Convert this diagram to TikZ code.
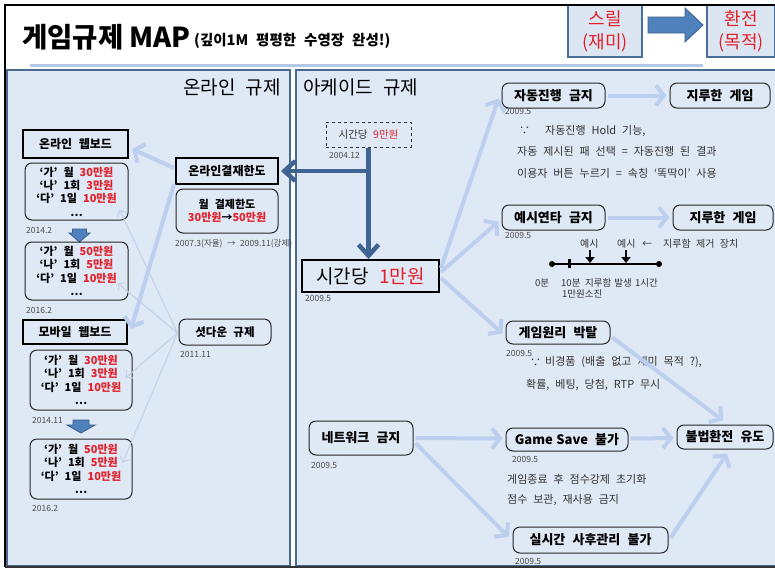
\documentclass[tikz,border=0pt]{standalone}
\usepackage{fontspec}
\setmainfont{Noto Sans CJK KR}[WordSpace=2.4]
\usetikzlibrary{arrows.meta,calc}
\definecolor{panel}{HTML}{DFE8F5}
\definecolor{pborder}{HTML}{4A6890}
\definecolor{lightarr}{HTML}{BCCFEE}
\definecolor{thinarr}{HTML}{C3D2EA}
\definecolor{darkarr}{HTML}{3F6494}
\definecolor{myred}{HTML}{E3202A}
\definecolor{dategray}{HTML}{4D4D4D}
\definecolor{notegray}{HTML}{333333}
\definecolor{topfill}{HTML}{DCE6F2}
\definecolor{topedge}{HTML}{4A6E9A}
\definecolor{blockblue}{HTML}{4F81BD}
\definecolor{blockedge}{HTML}{3A5F8F}
\definecolor{ruleblue}{HTML}{B4C7E7}
\newcommand\rd[1]{\textcolor{myred}{#1}}
\begin{document}
\begin{tikzpicture}[x=1pt,y=-1pt,
  every node/.style={inner sep=0pt},
  thickbox/.style={draw=black,line width=2pt,font=\fontsize{12}{14}\selectfont\bfseries},
  rbox/.style={draw=black!85,line width=1pt,rounded corners=7pt},
  lbl/.style={rbox,font=\fontsize{13}{15}\selectfont\bfseries},
  valbox/.style={rbox,align=center,font=\fontsize{11}{13.3}\selectfont\bfseries},
  datelbl/.style={anchor=base west,text=dategray,font=\fontsize{8.5}{10}\selectfont},
  note/.style={anchor=base west,text=notegray,font=\fontsize{11}{13}\selectfont},
  tl/.style={anchor=base west,text=notegray,font=\fontsize{9.5}{11}\selectfont},
  larr/.style={draw=lightarr,line width=4pt,-{Straight Barb[length=8pt,width=20pt]}},
  tarr/.style={draw=thinarr,line width=1.1pt,-{Straight Barb[length=5pt,width=10pt]}},
  darr/.style={draw=darkarr,line width=4.5pt,-{Straight Barb[length=11pt,width=20pt]}},
  blockarr/.style={fill=blockblue,draw=blockedge,line width=0.8pt},
  headtxt/.style={font=\fontsize{19}{22}\selectfont},
  topbox/.style={fill=topfill,draw=topedge,line width=1.2pt,minimum height=52pt,align=center,text=myred,font=\fontsize{18}{23}\selectfont},
]
\useasboundingbox (0,0) rectangle (775,568);
\fill[white] (0,0) rectangle (775,568);
% panels
\fill[panel] (7,70) rectangle (290,566);
\draw[pborder,line width=2pt] (7,70) rectangle (290,566);
\fill[panel] (296,70) rectangle (775,566);
\draw[pborder,line width=2pt] (775,70) -- (296,70) -- (296,566) -- (775,566);
% title
\draw[ruleblue,line width=3pt] (30,65) -- (703,65);
\node[anchor=base west,font=\fontsize{27.5}{31}\selectfont\bfseries] (title) at (22,47) {게임규제\hspace{6pt}MAP};
\node[anchor=base west,font=\fontsize{14.5}{16}\selectfont\bfseries] (subtitle) at (194,45) {(깊이1M 평평한 수영장 완성!)};
% top boxes
\node[topbox,minimum width=74pt] (thrill) at (605,31) {스릴\\(재미)};
\node[topbox,minimum width=68pt] (exch) at (741,31) {환전\\(목적)};
\draw[blockarr] (648,17) -- (685,17) -- (685,8) -- (703,25) -- (685,42) -- (685,33) -- (648,33) -- cycle;
% headings
\node[headtxt,anchor=base east] (hon) at (281,94) {온라인 규제};
\node[headtxt,anchor=base west] (harc) at (303,94) {아케이드 규제};

% ---------- left panel ----------
\node[thickbox,minimum width=105pt,minimum height=28pt] (web) at (75.5,144) {온라인 웹보드};
\node[valbox,minimum width=103pt,minimum height=57pt] (b1) at (76.5,191.5) {‘가’ 월 \rd{30만원}\\‘나’ 1회 \rd{3만원}\\‘다’ 1일 \rd{10만원}\\…};
\node[datelbl] (d1) at (26,233) {2014.2};
\draw[blockarr] (72.5,229) -- (86.5,229) -- (86.5,233) -- (90,233) -- (79.5,242) -- (69,233) -- (72.5,233) -- cycle;
\node[valbox,minimum width=103pt,minimum height=58pt] (b2) at (76.5,271) {‘가’ 월 \rd{50만원}\\‘나’ 1회 \rd{5만원}\\‘다’ 1일 \rd{10만원}\\…};
\node[datelbl] (d2) at (26,313) {2016.2};
\node[thickbox,minimum width=104pt,minimum height=24pt] (mob) at (75,332) {모바일 웹보드};
\node[valbox,minimum width=102pt,minimum height=60pt] (b3) at (81,380) {‘가’ 월 \rd{30만원}\\‘나’ 1회 \rd{3만원}\\‘다’ 1일 \rd{10만원}\\…};
\node[datelbl] (d3) at (32,423) {2014.11};
\draw[blockarr] (73,420) -- (89,420) -- (89,425) -- (95,425) -- (81,433) -- (67,425) -- (73,425) -- cycle;
\node[valbox,minimum width=102pt,minimum height=60pt] (b4) at (81,469) {‘가’ 월 \rd{50만원}\\‘나’ 1회 \rd{5만원}\\‘다’ 1일 \rd{10만원}\\…};
\node[datelbl] (d4) at (32,511) {2016.2};

\node[thickbox,minimum width=102pt,minimum height=26pt] (pay) at (227,171) {온라인결재한도};
\node[valbox,minimum width=102pt,minimum height=44pt] (pb) at (227,211) {월 결제한도\\\rd{30만원}→\rd{50만원}};
\node[datelbl] (d5) at (175,246) {2007.3(자율) → 2009.11(강제)};
\node[rbox,minimum width=92pt,minimum height=26pt,font=\fontsize{11.5}{14}\selectfont\bfseries] (shut) at (225,332) {셧다운 규제};
\node[datelbl] (d6) at (180,357) {2011.11};

% left arrows
\draw[larr] ($(pay.west)+(-1,-3)$) -- ($(web.east)+(3,5)$);
\draw[larr] ($(pay.south west)+(-1,-1)$) -- ($(mob.east)+(3,-3)$);
\draw[tarr] ($(shut.west)+(-1,1)$) -- ($(b1.south east)+(-9,-11)$);
\draw[tarr] ($(shut.west)+(-1,1)$) -- ($(b2.east)+(-11,12)$);
\draw[tarr] ($(shut.west)+(-1,1)$) -- ($(b3.east)+(-7,-2)$);
\draw[tarr] ($(shut.west)+(-1,1)$) -- ($(b4.east)+(-10,-6)$);

% ---------- right panel ----------
\node[draw=black!80,dashed,line width=1pt,minimum width=85pt,minimum height=25pt,text=notegray,font=\fontsize{10.5}{12}\selectfont] (nine) at (368.5,134.5) {시간당 \rd{9만원}};
\node[datelbl] (d7) at (329,158) {2004.12};
\node[draw=black,line width=2pt,minimum width=137pt,minimum height=32pt,font=\fontsize{19}{22}\selectfont] (one) at (370.5,276) {시간당 \rd{1만원}};
\node[datelbl] (d8) at (305,301) {2009.5};

\node[lbl,minimum width=103pt,minimum height=25pt] (auto) at (553.5,95.5) {자동진행 금지};
\node[lbl,minimum width=100pt,minimum height=25pt] (bore1) at (720,95.5) {지루한 게임};
\node[datelbl] (d9) at (505,114) {2009.5};
\node[note] (n1a) at (519,134) {∵};
\node[note] (n1b) at (545,134) {자동진행 Hold 기능,};
\node[note] (n2) at (517,155) {자동 제시된 패 선택 = 자동진행 된 결과};
\node[note] (n3) at (517,177) {이용자 버튼 누르기 = 속칭 ‘똑딱이’ 사용};

\node[lbl,minimum width=103pt,minimum height=25pt] (ex) at (553.5,217.5) {예시연타 금지};
\node[lbl,minimum width=100pt,minimum height=25pt] (bore2) at (723,217.5) {지루한 게임};
\node[datelbl] (d10) at (505,238) {2009.5};
\node[tl,font=\fontsize{10}{12}\selectfont] (ex1) at (580,247) {예시};
\node[tl,font=\fontsize{10}{12}\selectfont] (ex2) at (617,247) {예시};
\node[tl,font=\fontsize{10}{12}\selectfont] (exa) at (642,247) {←};
\node[tl,font=\fontsize{10}{12}\selectfont] (exn) at (663,247) {지루함 제거 장치};
\coordinate (t0) at (552,264);
\coordinate (t1) at (659,264);
\draw[line width=2pt] (t0) -- (t1);
\fill (t0) circle (3);
\fill (t1) circle (3);
\fill (567.5,259) rectangle (570.5,268);
\coordinate (a1) at (590,250);
\coordinate (a1e) at (590,263);
\coordinate (a2) at (626,250);
\coordinate (a2e) at (626,263);
\draw[line width=2.5pt,-{Triangle[length=6pt,width=9pt]}] (a1) -- (a1e);
\draw[line width=2.5pt,-{Triangle[length=6pt,width=9pt]}] (a2) -- (a2e);
\node[tl] (l0) at (535,286) {0분};
\node[tl] (l1) at (561,286) {10분};
\node[tl] (l2) at (585,286) {지루함\hspace{3pt}발생};
\node[tl] (l3) at (635,286) {1시간};
\node[tl] (l4) at (562,297) {1만원소진};

\node[lbl,minimum width=104pt,minimum height=23pt] (prin) at (558,332.5) {게임원리 박탈};
\node[datelbl] (d11) at (506,356) {2009.5};
\node[note] (n4a) at (530,366) {∵};
\node[note] (n4b) at (545,365) {비경품 (배출 없고 재미 목적 ?),};
\node[note] (n5) at (526,388) {확률, 베팅, 당첨, RTP 무시};

\node[lbl,minimum width=104pt,minimum height=34pt] (net) at (361,438) {네트워크 금지};
\node[datelbl] (d12) at (311,468) {2009.5};
\node[lbl,minimum width=122pt,minimum height=23pt] (gsave) at (567,439.5) {Game\hspace{3.5pt}Save 불가};
\node[datelbl] (d13) at (512,462) {2009.5};
\node[note] (n6) at (507,483) {게임종료 후 점수강제 초기화};
\node[note] (n7) at (507,503) {점수 보관, 재사용 금지};
\node[lbl,minimum width=96pt,minimum height=24pt] (illegal) at (725,437) {불법환전 유도};
\node[lbl,minimum width=155pt,minimum height=26pt] (rt) at (590.5,540) {실시간 사후관리 불가};
\node[datelbl] (d14) at (515,564) {2009.5};

% dark arrows
\draw[darr] (nine.south) -- (nine.south |- one.north);
\draw[darr] (nine.south |- pay.east) -- ($(pay.east)+(2,0)$);

% light arrows right
\draw[larr] ($(one.east)+(1,-8)$) -- ($(auto.west)+(-3,3)$);
\draw[larr] ($(one.east)+(1,-4)$) -- ($(ex.west)+(-3,4)$);
\draw[larr] ($(one.east)+(1,2)$) -- ($(prin.west)+(-3,1)$);
\draw[larr] ($(auto.east)+(2,0)$) -- ($(bore1.west)+(-3,0)$);
\draw[larr] ($(ex.east)+(2,0)$) -- ($(bore2.west)+(-3,0)$);
\draw[larr] ($(prin.east)+(2,5)$) -- ($(illegal.north)+(-2,-4)$);
\draw[larr] ($(net.east)+(2,0)$) -- ($(gsave.west)+(-3,-1)$);
\draw[larr] ($(net.east)+(2,5)$) -- ($(rt.west)+(-4,-3)$);
\draw[larr] ($(gsave.east)+(2,-1)$) -- ($(illegal.west)+(-3,1)$);
\draw[larr] ($(rt.east)+(2,-2)$) -- ($(illegal.south)+(2,4)$);

% frame
\draw[black,line width=2.5pt] (775,5) -- (5,5) -- (5,567);
\draw[black!80,line width=2pt] (5,567) -- (775,567);
\end{tikzpicture}
\end{document}
